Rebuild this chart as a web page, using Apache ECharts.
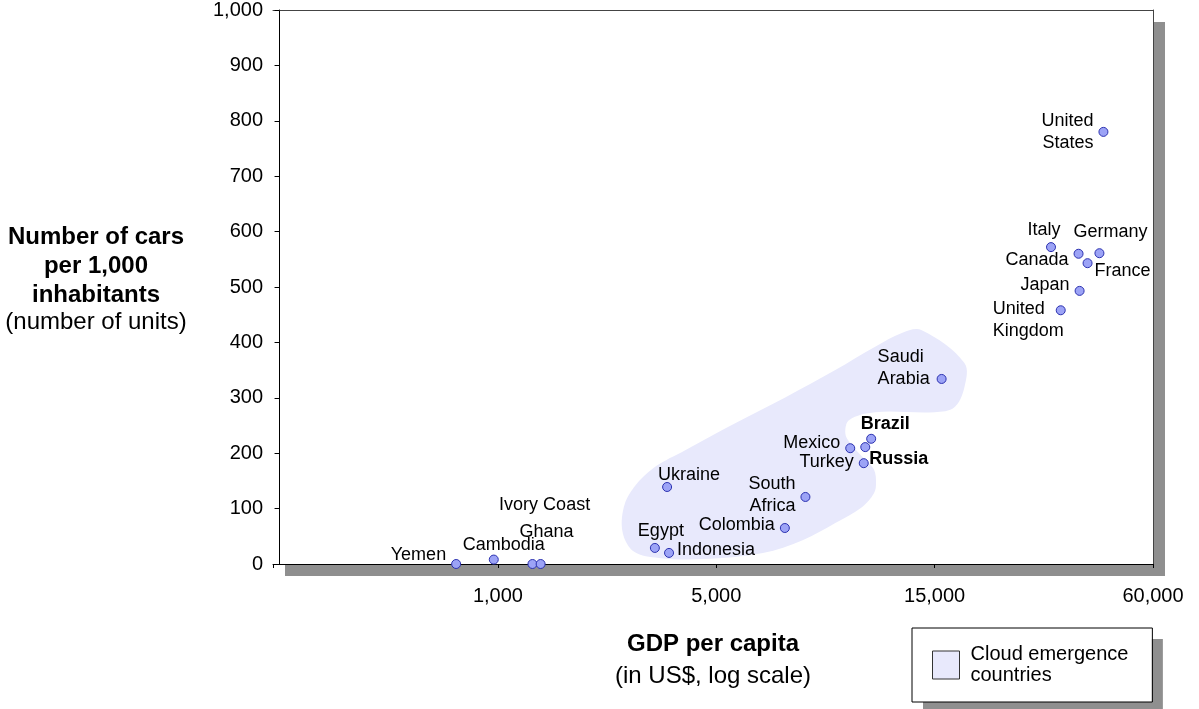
<!DOCTYPE html>
<html>
<head>
<meta charset="utf-8">
<script src="https://cdn.jsdelivr.net/npm/echarts@6/dist/echarts.min.js"></script>
<style>
html,body{margin:0;padding:0;background:#fff;}
#chart{width:1199px;height:709px;}
</style>
</head>
<body>
<div id="chart"></div>
<script>
// ---- data ----
const countries = ['Yemen','Cambodia','Ghana','Ivory Coast','Egypt','Indonesia','Ukraine','Colombia','South Africa','Mexico','Russia','Brazil','Turkey','Saudi Arabia','United States','Italy','Canada','Germany','France','Japan','United Kingdom'];
const gdpPerCapita = [735, 970, 1290, 1370, 3180, 3530, 3480, 7060, 7830, 9810, 10580, 10900, 10500, 15680, 43800, 31400, 37400, 42700, 39600, 37650, 33400];
const carsPer1000 = [0, 8, 0, 0, 29, 20, 139, 65, 121, 209, 211, 226, 182, 334, 780, 572, 560, 561, 543, 493, 458];
const xTickValues = [1000, 5000, 15000, 60000];
const xTickLabels = ['1,000', '5,000', '15,000', '60,000'];
// outline of the "cloud emergence countries" area (GDP, cars)
const cloudGdp  = [12720, 14060, 18120, 18120, 17010, 15000, 11120, 9760, 9570, 9810, 10580, 11060, 11170, 11060, 10420, 9100, 7720, 6320, 4530, 3275, 2730, 2510, 2530, 2730, 3180, 3990, 5525, 7090, 9100, 11120];
const cloudCars = [417, 422, 363, 319, 283, 274, 274, 260, 236, 218, 188, 170, 146, 128, 103, 74, 43, 20, 9, 11, 22, 56, 103, 139, 175, 206, 255, 301, 350, 392];
const cloudName = 'Cloud emergence countries';

// ---- label placement (style only) ----
const labelCfg = {
  'Yemen': {position:'left', offset:[0,-9]},
  'Cambodia': {position:'top', offset:[10,6]},
  'Ghana': {position:'top', offset:[14,-11]},
  'Ivory Coast': {position:'top', offset:[4,-38]},
  'Egypt': {position:'top', offset:[6,4]},
  'Indonesia': {position:'right', offset:[-2,-3]},
  'Ukraine': {position:'top', offset:[22,9]},
  'Colombia': {position:'left', offset:[0,-3]},
  'South Africa': {position:'left', offset:[0,-2], text:'South\nAfrica'},
  'Mexico': {position:'left', offset:[0,-5]},
  'Russia': {position:'right', offset:[-6,12], fontWeight:'bold'},
  'Brazil': {position:'top', offset:[14,6], fontWeight:'bold'},
  'Turkey': {position:'left', offset:[0,-1]},
  'Saudi Arabia': {position:'left', align:'left', offset:[-54,-11], text:'Saudi\nArabia'},
  'United States': {position:'left', offset:[0,0], text:'United\nStates'},
  'Italy': {position:'top', offset:[-7,4]},
  'Canada': {position:'left', offset:[0,6]},
  'Germany': {position:'top', offset:[11,0]},
  'France': {position:'right', offset:[-3,8]},
  'Japan': {position:'left', offset:[0,-6]},
  'United Kingdom': {position:'left', align:'left', offset:[-58,10], text:'United\nKingdom'}
};

// piecewise log scale: tick values equally spaced on the axis
function toPos(v) {
  const t = xTickValues;
  if (v <= t[1]) return 1 + Math.log(v / t[0]) / Math.log(t[1] / t[0]);
  for (let i = 1; i < t.length - 1; i++) {
    if (v <= t[i + 1]) return i + 1 + Math.log(v / t[i]) / Math.log(t[i + 1] / t[i]);
  }
  const n = t.length - 1;
  return n + 1 + Math.log(v / t[n]) / Math.log(t[n] / t[n - 1]);
}

const FONT = '"Liberation Sans", Arial, Helvetica, sans-serif';
const tickPos = xTickValues.map((v, i) => i + 1);

const scatterData = countries.map((c, i) => {
  const cfg = labelCfg[c] || {};
  return {
    name: c,
    value: [toPos(gdpPerCapita[i]), carsPer1000[i]],
    label: {
      show: true,
      position: cfg.position,
      offset: cfg.offset,
      align: cfg.align,
      fontWeight: cfg.fontWeight || 'normal',
      formatter: cfg.text || c
    }
  };
});

const legendBase = {
  left: 912, top: 628, orient: 'vertical',
  padding: [16, 24, 16, 20],
  itemWidth: 27, itemHeight: 28,
  selectedMode: false,
  formatter: () => 'Cloud emergence\ncountries'
};

const chart = echarts.init(document.getElementById('chart'), null, {renderer: 'canvas'});
chart.setOption({
  animation: false,
  backgroundColor: '#fff',
  textStyle: {fontFamily: FONT, color: '#000'},
  title: [
    {
      text: 'Number of cars\nper 1,000\ninhabitants',
      subtext: '(number of units)',
      left: 96, top: 223, textAlign: 'center', itemGap: -2, padding: 0,
      textStyle: {fontFamily: FONT, fontSize: 24, fontWeight: 'bold', color: '#000', lineHeight: 29},
      subtextStyle: {fontFamily: FONT, fontSize: 24, color: '#000', lineHeight: 28}
    },
    {
      text: 'GDP per capita',
      subtext: '(in US$, log scale)',
      left: 713, top: 630, textAlign: 'center', itemGap: 4, padding: 0,
      textStyle: {fontFamily: FONT, fontSize: 24, fontWeight: 'bold', color: '#000', lineHeight: 28},
      subtextStyle: {fontFamily: FONT, fontSize: 24, color: '#000', lineHeight: 28}
    }
  ],
  legend: [
    // shadow layer (white box with hard shadow, no border)
    Object.assign({}, legendBase, {
      z: 1,
      backgroundColor: '#fff', borderWidth: 0,
      shadowColor: '#8f8f8f', shadowBlur: 0, shadowOffsetX: 11, shadowOffsetY: 11,
      textStyle: {fontFamily: FONT, fontSize: 20, lineHeight: 21, color: 'rgba(0,0,0,0)', padding: [0, 0, 0, 6]},
      data: [{name: cloudName, icon: 'rect', itemStyle: {color: 'rgba(0,0,0,0)', borderWidth: 0}}]
    }),
    // visible legend with border
    Object.assign({}, legendBase, {
      z: 2,
      backgroundColor: 'rgba(0,0,0,0)', borderColor: '#000', borderWidth: 1,
      textStyle: {fontFamily: FONT, fontSize: 20, lineHeight: 21, color: '#000', padding: [0, 0, 0, 6]},
      data: [{name: cloudName, icon: 'rect', itemStyle: {color: '#e8e9fc', borderColor: '#333', borderWidth: 1}}]
    })
  ],
  grid: {
    left: 273, right: 46, top: 10, bottom: 145,
    outerBoundsMode: 'none',
    show: true, backgroundColor: '#fff', borderWidth: 0,
    shadowColor: '#8f8f8f', shadowBlur: 0, shadowOffsetX: 12, shadowOffsetY: 12
  },
  xAxis: [
    {
      type: 'value', min: -0.03, max: 4, position: 'bottom',
      axisLine: {show: true, lineStyle: {color: '#000', width: 1}},
      axisTick: {show: true, length: 4, customValues: [-0.03].concat(tickPos), lineStyle: {color: '#000'}},
      axisLabel: {
        customValues: tickPos, margin: 22, fontSize: 20, color: '#000', fontFamily: FONT,
        formatter: v => xTickLabels[Math.round(v) - 1]
      },
      splitLine: {show: false}
    },
    {
      type: 'value', min: -0.03, max: 4, position: 'top',
      axisLine: {show: true, onZero: false, lineStyle: {color: '#444', width: 1}},
      axisTick: {show: false}, axisLabel: {show: false}, splitLine: {show: false}
    }
  ],
  yAxis: [
    {
      type: 'value', min: 0, max: 1000, interval: 100, position: 'left',
      axisLine: {show: true, lineStyle: {color: '#000', width: 1}},
      axisTick: {show: true, length: 5, lineStyle: {color: '#000'}},
      axisLabel: {margin: 10, fontSize: 20, color: '#000', fontFamily: FONT, formatter: v => v.toLocaleString('en-US')},
      splitLine: {show: false}
    },
    {
      type: 'value', min: 0, max: 1000, interval: 100, position: 'right',
      axisLine: {show: true, onZero: false, lineStyle: {color: '#444', width: 1}},
      axisTick: {show: false}, axisLabel: {show: false}, splitLine: {show: false}
    }
  ],
  series: [
    {
      type: 'custom', name: cloudName, silent: true, z: 1,
      itemStyle: {color: '#e8e9fc'},
      data: [[toPos(cloudGdp[0]), cloudCars[0]]],
      renderItem: (params, api) => {
        const pts = cloudGdp.map((g, i) => api.coord([toPos(g), cloudCars[i]]));
        return {type: 'polygon', shape: {points: pts, smooth: 0.35}, style: {fill: '#e8e9fc', stroke: null}};
      }
    },
    {
      type: 'scatter', name: 'Countries', z: 3, clip: false,
      symbol: 'circle', symbolSize: 9,
      itemStyle: {color: '#9ca3f6', borderColor: '#2c32b0', borderWidth: 1, opacity: 1},
      label: {fontSize: 18, color: '#000', fontFamily: FONT, lineHeight: 22, distance: 5},
      emphasis: {disabled: true},
      data: scatterData
    }
  ]
});
</script>
</body>
</html>
